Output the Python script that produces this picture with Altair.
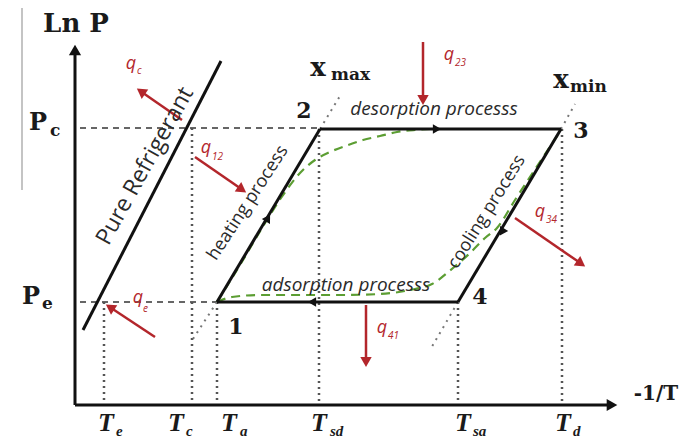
import altair as alt
import pandas as pd
import numpy as np

# ---- diagram geometry (diagram units = picture pixels) ----
# thick black lines: axes, pure refrigerant isostere, cycle 1-2-3-4
thick_x1 = [75, 75, 83, 217, 320, 561, 458]
thick_y1 = [405, 405, 330, 302, 129, 129, 302]
thick_x2 = [75, 608, 221, 320, 561, 458, 217]
thick_y2 = [54, 405, 61, 129, 129, 302, 302]

# axis arrow heads
axhead_x = [75, 612]
axhead_y = [50, 405]
axhead_ang = [0, 90]

# cycle direction arrows (position + direction vector)
cyc_ax = [268, 437, 502, 312]
cyc_ay = [218, 129, 232, 302]
cyc_dx = [103, 1, -103, -1]
cyc_dy = [-173, 0, 173, 0]

# dashed pressure levels Pc / Pe
dash_x1 = [80, 80]
dash_x2 = [320, 217]
dash_y = [128, 302]

# dotted temperature drop lines
dot_x = [104, 192, 217, 319, 458, 562]
dot_ytop = [302, 128, 302, 129, 302, 129]
dot_ybot = [405, 405, 405, 405, 405, 405]

# dotted isostere extensions
ext_x1 = [217, 320, 561, 458]
ext_y1 = [302, 129, 129, 302]
ext_x2 = [191, 340, 575, 430]
ext_y2 = [342, 96, 104, 350]

# green dashed curves
up_x = [217, 240, 262, 281, 300, 315, 330, 348, 363, 380, 397, 415, 432, 470, 561]
up_y = [302, 265, 228, 198, 173, 160, 152, 145, 140, 136, 132, 130, 129, 129, 129]
lo_x = [217, 232, 260, 300, 340, 380, 410, 432, 453, 470, 485, 497, 515, 561]
lo_y = [302, 297, 295, 295, 295, 294, 290, 284, 268, 253, 238, 228, 200, 130]

# red heat arrows (start -> tip)
heat_names = ["qc", "q12", "q23", "q34", "q41", "qe"]
heat_x1 = [182, 195, 423, 515, 366, 155]
heat_y1 = [120, 157, 42, 218, 305, 337]
heat_x2 = [136, 247, 423, 586, 366, 105]
heat_y2 = [88, 193, 106, 267, 368, 304]

# red heat labels
q_x = [131, 206, 449, 540, 382, 138]
q_y = [64, 148, 55, 212, 328, 298]
qsub_txt = ["c", "12", "23", "34", "41", "e"]
qsub_x = [137, 212, 455, 546, 388, 143]
qsub_y = [71, 157, 63, 220, 336, 309]

# bold serif labels
bold_txt = ["Ln P", "P", "P", "x", "x", "1", "2", "3", "4", "-1/T"]
bold_x = [76, 38, 31, 318, 561, 236, 304, 581, 480, 656]
bold_y = [24, 123, 297, 68, 80, 327, 111, 131, 297, 394]
bold_size = [26, 24, 24, 26, 26, 22, 22, 22, 22, 20]
bsub_txt = ["c", "e", "max", "min"]
bsub_x = [50, 42, 331, 570]
bsub_y = [131, 304, 75, 87]

# temperature tick labels
tlab_x = [106, 176, 229, 319, 463, 563]
tlab_y = [423] * 6
tsub_txt = ["e", "c", "a", "sd", "sa", "d"]
tsub_x = [116, 186, 240, 330, 473, 573]
tsub_y = [431] * 6

# rotated / process texts
proc_txt = ["Pure Refrigerant", "heating process", "cooling process"]
proc_x = [145, 248, 487]
proc_y = [166, 203, 212]
proc_ang = [299, 303, 302]
proc_size = [23, 18, 18]
flat_txt = ["desorption processs", "adsorption processs"]
flat_x = [434, 346]
flat_y = [109, 285]

# ---- scales ----
W, H = 671, 431
xs = alt.Scale(domain=[8, 8 + W], nice=False, zero=False)
ys = alt.Scale(domain=[8, 8 + H], nice=False, zero=False, reverse=True)
RED = "#b3262b"
GREEN = "#5c9e33"


def seg_layer(df, color, width, dash=None, opacity=1.0):
    kw = dict(color=color, strokeWidth=width, opacity=opacity)
    if dash:
        kw["strokeDash"] = dash
    return alt.Chart(df).mark_rule(**kw).encode(
        x=alt.X("x1:Q", scale=xs, axis=None),
        y=alt.Y("y1:Q", scale=ys, axis=None),
        x2="x2:Q",
        y2="y2:Q",
    )


def head_layer(df, color, size):
    return alt.Chart(df).mark_point(
        shape="triangle-up", filled=True, color=color, size=size, opacity=1
    ).encode(
        x=alt.X("x:Q", scale=xs, axis=None),
        y=alt.Y("y:Q", scale=ys, axis=None),
        angle=alt.Angle("ang:Q", scale=None),
    )


def text_layer(df, align="center", **kw):
    enc = dict(
        x=alt.X("x:Q", scale=xs, axis=None),
        y=alt.Y("y:Q", scale=ys, axis=None),
        text="t:N",
    )
    if "size" in df.columns:
        enc["size"] = alt.Size("size:Q", scale=None, legend=None)
    if "ang" in df.columns:
        enc["angle"] = alt.Angle("ang:Q", scale=None)
    return alt.Chart(df).mark_text(align=align, baseline="middle", **kw).encode(**enc)


def ang_of(dx, dy):
    return np.mod(np.degrees(np.arctan2(np.array(dx, float), -np.array(dy, float))), 360)


thick = pd.DataFrame(dict(x1=thick_x1, y1=thick_y1, x2=thick_x2, y2=thick_y2))
dashed = pd.DataFrame(dict(x1=dash_x1, x2=dash_x2, y1=dash_y, y2=dash_y))
dotted = pd.DataFrame(dict(x1=dot_x, x2=dot_x, y1=dot_ytop, y2=dot_ybot))
ext = pd.DataFrame(dict(x1=ext_x1, y1=ext_y1, x2=ext_x2, y2=ext_y2))
gray_bar = pd.DataFrame(dict(x1=[22], x2=[22], y1=[8], y2=[190]))

# red arrows: shaft ends at head centre, head just behind tip
hx1 = np.array(heat_x1, float); hy1 = np.array(heat_y1, float)
hx2 = np.array(heat_x2, float); hy2 = np.array(heat_y2, float)
L = np.hypot(hx2 - hx1, hy2 - hy1)
ux = (hx2 - hx1) / L; uy = (hy2 - hy1) / L
headc_x = hx2 - 6 * ux; headc_y = hy2 - 6 * uy
red_shaft = pd.DataFrame(dict(x1=hx1, y1=hy1, x2=headc_x, y2=headc_y))
red_heads = pd.DataFrame(dict(x=headc_x, y=headc_y, ang=ang_of(hx2 - hx1, hy2 - hy1)))

ax_heads = pd.DataFrame(dict(x=axhead_x, y=axhead_y, ang=axhead_ang))
cyc_heads = pd.DataFrame(dict(x=cyc_ax, y=cyc_ay, ang=ang_of(cyc_dx, cyc_dy)))

curves = pd.concat([
    pd.DataFrame(dict(x=up_x, y=up_y, c="up", o=range(len(up_x)))),
    pd.DataFrame(dict(x=lo_x, y=lo_y, c="lo", o=range(len(lo_x)))),
])
green = alt.Chart(curves).mark_line(
    color=GREEN, strokeWidth=2.2, strokeDash=[9, 6], interpolate="monotone"
).encode(
    x=alt.X("x:Q", scale=xs, axis=None),
    y=alt.Y("y:Q", scale=ys, axis=None),
    detail="c:N",
    order="o:Q",
)

q_df = pd.DataFrame(dict(x=q_x, y=q_y, t=["q"] * 6))
qs_df = pd.DataFrame(dict(x=qsub_x, y=qsub_y, t=qsub_txt))
bold_df = pd.DataFrame(dict(x=bold_x, y=bold_y, t=bold_txt, size=bold_size))
bsub_df = pd.DataFrame(dict(x=bsub_x, y=bsub_y, t=bsub_txt))
t_df = pd.DataFrame(dict(x=tlab_x, y=tlab_y, t=["T"] * 6))
ts_df = pd.DataFrame(dict(x=tsub_x, y=tsub_y, t=tsub_txt))
proc_df = pd.DataFrame(dict(x=proc_x, y=proc_y, t=proc_txt, ang=proc_ang, size=proc_size))
flat_df = pd.DataFrame(dict(x=flat_x, y=flat_y, t=flat_txt))

layers = [
    seg_layer(gray_bar, "#c4c4c4", 2),
    seg_layer(dashed, "#666666", 2, [6, 5]),
    seg_layer(dotted, "#555555", 2.5, [2, 4]),
    seg_layer(ext, "#777777", 2, [2, 5]),
    green,
    seg_layer(thick, "#111111", 3),
    head_layer(ax_heads, "#111111", 150),
    head_layer(cyc_heads, "#111111", 90),
    seg_layer(red_shaft, RED, 2.5),
    head_layer(red_heads, RED, 130),
    text_layer(q_df, font="Open Sans", fontStyle="italic", fontSize=18, color=RED),
    text_layer(qs_df, align="left", font="Open Sans", fontStyle="italic", fontSize=10, color=RED),
    text_layer(bold_df, font="DejaVu Serif", fontWeight="bold", color="#1a1a1a"),
    text_layer(bsub_df, align="left", font="DejaVu Serif", fontWeight="bold", fontSize=17, color="#1a1a1a"),
    text_layer(t_df, font="Liberation Serif", fontStyle="italic", fontWeight="bold", fontSize=26, color="#1a1a1a"),
    text_layer(ts_df, align="left", font="Liberation Serif", fontStyle="italic", fontWeight="bold", fontSize=15, color="#1a1a1a"),
    text_layer(proc_df, font="Open Sans", color="#2a2a2a"),
    text_layer(flat_df, font="Open Sans", fontStyle="italic", fontSize=19, color="#2a2a2a"),
]

chart = alt.layer(*layers).properties(
    width=W, height=H, padding=0,
    autosize=alt.AutoSizeParams(type="none"),
    background="white",
).configure_view(stroke=None)

chart.save("out.html", embed_options={"renderer": "svg", "actions": False})
